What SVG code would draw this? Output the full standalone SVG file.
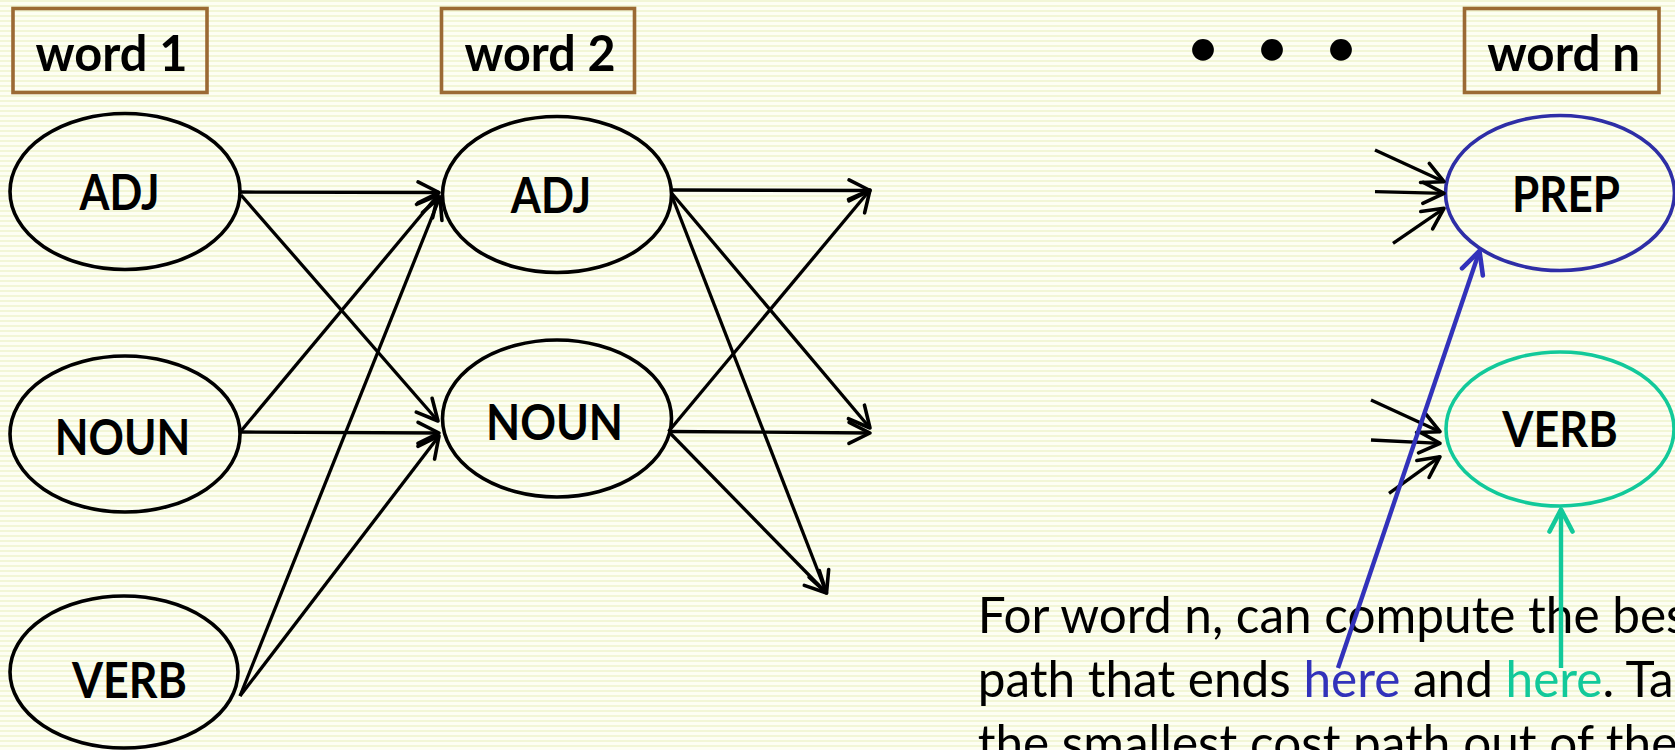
<svg xmlns="http://www.w3.org/2000/svg" width="1675" height="750" viewBox="0 0 1675 750">
<defs>
<pattern id="bg" width="10" height="5" patternUnits="userSpaceOnUse">
<rect width="10" height="5" fill="#FDFEF3"/>
<rect width="10" height="2" fill="#F2F6D6"/>
</pattern>
<marker id="ah" viewBox="-26 -14 30 28" refX="0" refY="0" markerWidth="30" markerHeight="28" markerUnits="userSpaceOnUse" orient="auto" overflow="visible">
<path d="M-21,-10.5 L0,0 L-21,10.5" fill="none" stroke="#000" stroke-width="3.6" stroke-linecap="round" stroke-linejoin="round"/>
</marker>
<marker id="ahb" viewBox="-26 -14 30 28" refX="0" refY="0" markerWidth="30" markerHeight="28" markerUnits="userSpaceOnUse" orient="auto" overflow="visible">
<path d="M-22,-11 L0,0 L-22,11" fill="none" stroke="#3232BA" stroke-width="4.6" stroke-linecap="round" stroke-linejoin="round"/>
</marker>
<marker id="ahg" viewBox="-26 -14 30 28" refX="0" refY="0" markerWidth="30" markerHeight="28" markerUnits="userSpaceOnUse" orient="auto" overflow="visible">
<path d="M-22,-11.5 L0,0 L-22,11.5" fill="none" stroke="#12C99A" stroke-width="4.6" stroke-linecap="round" stroke-linejoin="round"/>
</marker>
</defs>
<style>
.box{fill:none;stroke:#9B6A34;stroke-width:3.6}
.node{fill:none;stroke:#000;stroke-width:3.6}
.lbl{font-family:Lato,"Liberation Sans",sans-serif;font-weight:bold;font-size:50px;fill:#000;text-anchor:middle}
.txt{font-family:Lato,"Liberation Sans",sans-serif;font-size:49.5px;fill:#000}
.c{fill:none;stroke:#000;stroke-width:3.3;marker-end:url(#ah)}
</style>
<rect width="1675" height="750" fill="url(#bg)"/>

<g id="word1">
<rect class="box" x="13" y="8.5" width="194" height="84"/>
<text class="lbl" x="111.6" y="70.7" textLength="152" lengthAdjust="spacingAndGlyphs">word 1</text>
</g>
<g id="word2">
<rect class="box" x="441.5" y="8.5" width="193" height="84"/>
<text class="lbl" x="540" y="71" textLength="151" lengthAdjust="spacingAndGlyphs">word 2</text>
</g>
<g id="dots">
<text class="lbl" font-size="56" x="1203 1272 1341" y="65">•••</text>
</g>
<g id="wordn">
<rect class="box" x="1464.5" y="8.5" width="194.5" height="84"/>
<text class="lbl" x="1563.7" y="70.7" textLength="153" lengthAdjust="spacingAndGlyphs">word n</text>
</g>

<g id="adj1">
<ellipse class="node" cx="125" cy="191.5" rx="115" ry="78"/>
<text class="lbl" x="119.6" y="210" textLength="80" lengthAdjust="spacingAndGlyphs">ADJ</text>
</g>
<g id="noun1">
<ellipse class="node" cx="125" cy="434" rx="115" ry="78"/>
<text class="lbl" x="122.5" y="455" textLength="135.5" lengthAdjust="spacingAndGlyphs">NOUN</text>
</g>
<g id="verb1">
<ellipse class="node" cx="124" cy="672" rx="114" ry="76"/>
<text class="lbl" x="129.4" y="698" textLength="115" lengthAdjust="spacingAndGlyphs">VERB</text>
</g>
<g id="adj2">
<ellipse class="node" cx="557" cy="194.5" rx="114.5" ry="78"/>
<text class="lbl" x="551" y="212.7" textLength="80.5" lengthAdjust="spacingAndGlyphs">ADJ</text>
</g>
<g id="noun2">
<ellipse class="node" cx="557" cy="418.5" rx="114.5" ry="78.5"/>
<text class="lbl" x="554.5" y="440" textLength="137" lengthAdjust="spacingAndGlyphs">NOUN</text>
</g>
<g id="prep">
<ellipse class="node" cx="1560" cy="193" rx="114.5" ry="77.5" style="stroke:#2E2EA6"/>
<text class="lbl" x="1566" y="211.7" textLength="108" lengthAdjust="spacingAndGlyphs">PREP</text>
</g>
<g id="verbn">
<ellipse class="node" cx="1560" cy="429" rx="114" ry="77" style="stroke:#12C99A"/>
<text class="lbl" x="1560" y="447" textLength="115.4" lengthAdjust="spacingAndGlyphs">VERB</text>
</g>

<g id="connectors">
<line class="c" x1="241" y1="192" x2="439" y2="192.5"/>
<line class="c" x1="241" y1="195" x2="438" y2="421"/>
<line class="c" x1="241" y1="431" x2="438" y2="195"/>
<line class="c" x1="241" y1="432" x2="439" y2="433"/>
<line class="c" x1="240" y1="696" x2="440" y2="197"/>
<line class="c" x1="240" y1="696" x2="439" y2="436"/>
<line class="c" x1="671.5" y1="190" x2="870" y2="190.5"/>
<line class="c" x1="671.5" y1="193" x2="870" y2="428"/>
<line class="c" x1="671.5" y1="195" x2="826.5" y2="593"/>
<line class="c" x1="668.5" y1="431.5" x2="870" y2="190"/>
<line class="c" x1="668.5" y1="431.5" x2="870" y2="433"/>
<line class="c" x1="670" y1="433" x2="826.5" y2="593"/>
<line class="c" x1="1375" y1="150" x2="1444" y2="181.7"/>
<line class="c" x1="1375" y1="191.7" x2="1444" y2="193.3"/>
<line class="c" x1="1393" y1="243.3" x2="1444" y2="208.3"/>
<line class="c" x1="1371" y1="400" x2="1440" y2="431.7"/>
<line class="c" x1="1371" y1="440" x2="1440" y2="443.3"/>
<line class="c" x1="1389" y1="493.3" x2="1440" y2="456.7"/>
</g>

<g id="caption">
<text class="txt" x="977.7" y="633.3">For word n, can compute the best</text>
<text class="txt" x="977.7" y="697">path that ends <tspan fill="#3232BA">here</tspan> and <tspan fill="#12C99A">here</tspan>. Take</text>
<text class="txt" x="977.7" y="761">the smallest cost path out of these</text>
</g>

<g id="pointers">
<line x1="1338" y1="668" x2="1479.5" y2="251" stroke="#3232BA" stroke-width="4.4" marker-end="url(#ahb)"/>
<line x1="1561" y1="668" x2="1561" y2="509.5" stroke="#12C99A" stroke-width="4.4" marker-end="url(#ahg)"/>
</g>
</svg>
